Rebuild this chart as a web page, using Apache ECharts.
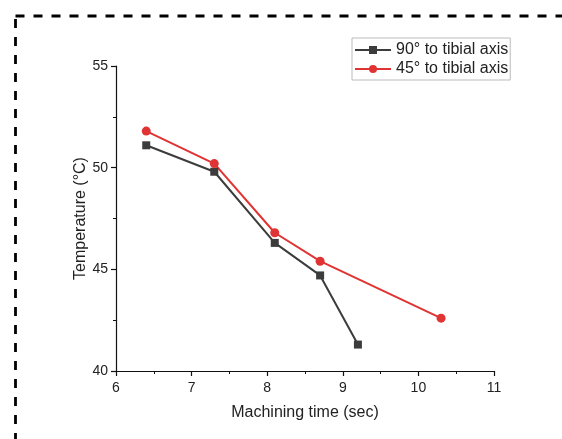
<!DOCTYPE html>
<html><head><meta charset="utf-8">
<script src="https://cdn.jsdelivr.net/npm/echarts@6/dist/echarts.min.js"></script>
<style>html,body{margin:0;padding:0;background:#fff}#c{width:562px;height:439px}</style>
</head><body><div id="c"></div>
<script>
const seriesNames = ['90° to tibial axis', '45° to tibial axis'];
const timeA = [6.4, 7.3, 8.1, 8.7, 9.2];
const tempA = [51.1, 49.8, 46.3, 44.7, 41.3];
const timeB = [6.4, 7.3, 8.1, 8.7, 10.3];
const tempB = [51.8, 50.2, 46.8, 45.4, 42.6];
const xName = 'Machining time (sec)';
const yName = 'Temperature (°C)';

const chart = echarts.init(document.getElementById('c'), null, {renderer: 'canvas'});
const font = 'Liberation Sans, Arial, sans-serif';
const axisCommon = {
  axisLine: {show: true, lineStyle: {color: '#111', width: 1.2}},
  axisTick: {show: true, inside: false, length: 5, lineStyle: {color: '#111', width: 1.2}},
  minorTick: {show: true, splitNumber: 2, length: 3, lineStyle: {color: '#111', width: 1}},
  splitLine: {show: false},
  axisLabel: {color: '#222', fontFamily: font, fontSize: 14},
  nameTextStyle: {color: '#222', fontFamily: font, fontSize: 16},
  nameLocation: 'middle',
  nameMoveOverlap: false
};
chart.setOption({
  animation: false,
  graphic: [{
    type: 'rect', silent: true,
    shape: {x: 15.5, y: 16, width: 620, height: 520},
    style: {fill: 'none', stroke: '#000', lineWidth: 2.8, lineDash: [9, 9]}
  }],
  grid: {left: 116, right: 68, top: 66, bottom: 68},
  legend: {
    orient: 'vertical', left: 352, top: 38,
    itemWidth: 36, itemHeight: 10, itemGap: 3,
    padding: [4, 2, 3, 2],
    borderColor: '#bbb', borderWidth: 1,
    textStyle: {color: '#222', fontFamily: font, fontSize: 16},
    data: seriesNames
  },
  xAxis: Object.assign({}, axisCommon, {
    type: 'value', min: 6, max: 11, interval: 1,
    name: xName, nameGap: 34,
    axisLabel: Object.assign({}, axisCommon.axisLabel, {margin: 10})
  }),
  yAxis: Object.assign({}, axisCommon, {
    type: 'value', min: 40, max: 55, interval: 5,
    name: yName, nameGap: 27
  }),
  series: [
    {
      name: seriesNames[0], type: 'line',
      data: timeA.map((t, i) => [t, tempA[i]]),
      symbol: 'rect', symbolSize: 8,
      lineStyle: {color: '#3c3c3c', width: 2},
      itemStyle: {color: '#3c3c3c'}
    },
    {
      name: seriesNames[1], type: 'line',
      data: timeB.map((t, i) => [t, tempB[i]]),
      symbol: 'circle', symbolSize: 9,
      lineStyle: {color: '#e03333', width: 2},
      itemStyle: {color: '#e03333'}
    }
  ]
});
</script></body></html>
